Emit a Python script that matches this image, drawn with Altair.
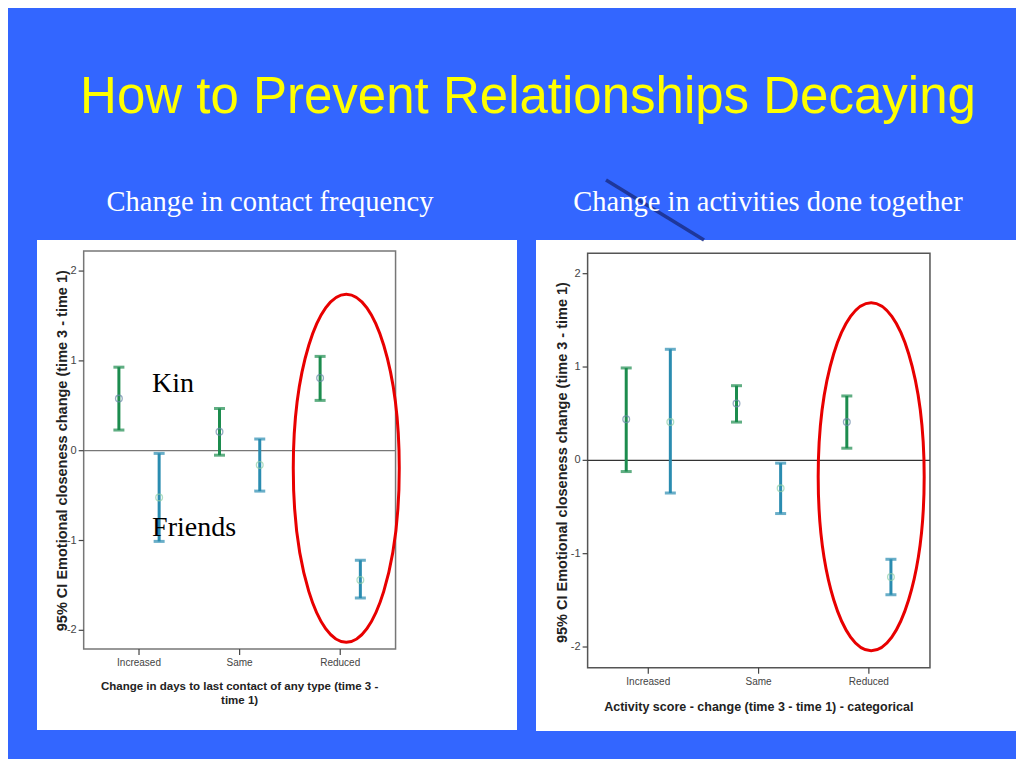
import altair as alt
import pandas as pd

# ---------------- data ----------------
CATEGORIES = ["Increased", "Same", "Reduced"]
GROUPS = ["Kin", "Friends"]
Y_TICKS = [-2, -1, 0, 1, 2]

# Left panel: change in contact frequency
L_KIN_MEAN = [0.58, 0.21, 0.81]
L_KIN_LO = [0.23, -0.05, 0.56]
L_KIN_HI = [0.93, 0.47, 1.05]
L_FR_MEAN = [-0.52, -0.16, -1.44]
L_FR_LO = [-1.01, -0.45, -1.64]
L_FR_HI = [-0.03, 0.13, -1.22]

# Right panel: change in activities done together
R_KIN_MEAN = [0.44, 0.61, 0.41]
R_KIN_LO = [-0.12, 0.41, 0.13]
R_KIN_HI = [0.99, 0.80, 0.69]
R_FR_MEAN = [0.41, -0.30, -1.25]
R_FR_LO = [-0.35, -0.57, -1.44]
R_FR_HI = [1.19, -0.03, -1.06]

TITLE = "How to Prevent Relationships Decaying"
L_SUBTITLE = "Change in contact frequency"
R_SUBTITLE = "Change in activities done together"
Y_TITLE = "95% CI Emotional closeness change (time 3 - time 1)"
L_XTITLE = ["Change in days to last contact of any type (time 3 -", "time 1)"]
R_XTITLE = ["Activity score - change (time 3 - time 1) - categorical"]
LABEL_TEXTS = ["Kin", "Friends"]

# ---------------- styling ----------------
BLUE = "#3366FF"
GREEN = "#1C8C4E"
TEAL = "#2A8CB0"
KIN_MARK = "#6A88A8"
FR_MARK = "#90D0A8"
AXIS_FONT = "Liberation Sans, Arial"
SERIF = "Liberation Serif, Times New Roman, serif"

# ellipse outline, semi-axes in pixels (53 x 174)
ELLIPSE_PATH = "M -53 0 A 53 174 0 1 0 53 0 A 53 174 0 1 0 -53 0 Z"

HIDDEN_AXIS = alt.Axis(labels=False, ticks=False, domain=False, grid=False,
                       title=None)


def make_df(kin_mean, kin_lo, kin_hi, fr_mean, fr_lo, fr_hi):
    rows = []
    for i, c in enumerate(CATEGORIES):
        rows.append(dict(cat=i + 1, category=c, group="Kin",
                         mean=kin_mean[i], lo=kin_lo[i], hi=kin_hi[i]))
        rows.append(dict(cat=i + 1, category=c, group="Friends",
                         mean=fr_mean[i], lo=fr_lo[i], hi=fr_hi[i]))
    return pd.DataFrame(rows)


def panel(df, subtitle, sub_px, xtitle, xtitle_dy, xtitle_size, xdom, ydom,
          frame_x, frame_y, w, h, ytitle_pos, frame_color, zero_color, ellipse,
          labels=None, main_title=None, swoosh=None):
    xs = alt.Scale(domain=xdom, nice=False, zero=False)
    ys = alt.Scale(domain=ydom, nice=False, zero=False)
    ux = (xdom[1] - xdom[0]) / w
    uy = (ydom[1] - ydom[0]) / h

    def px_x(p):  # pixel offset from left of panel -> data x
        return xdom[0] + p * ux

    def px_y(p):  # pixel offset from top of panel -> data y
        return ydom[1] - p * uy

    def X(f):
        return alt.X(f, scale=xs, axis=None)

    def Y(f):
        return alt.Y(f, scale=ys, axis=None)

    frame_df = pd.DataFrame([dict(x0=frame_x[0], x1=frame_x[1],
                                  y0=frame_y[0], y1=frame_y[1])])
    yt_df = pd.DataFrame(dict(v=Y_TICKS, lab=[str(v) for v in Y_TICKS]))
    yt_df["x0"] = frame_x[0]
    yt_df["x1"] = frame_x[0] - 5 * ux
    xt_df = pd.DataFrame(dict(v=[1, 2, 3], lab=CATEGORIES))
    xt_df["y0"] = frame_y[0]
    xt_df["y1"] = frame_y[0] - 6 * uy
    xtl_df = pd.DataFrame(dict(line=xtitle))
    xtl_df["yy"] = [frame_y[0] - i * 14 * uy for i in range(len(xtitle))]
    xtl_df["xc"] = (frame_x[0] + frame_x[1]) / 2

    frame = alt.Chart(frame_df).mark_rect(
        fillOpacity=0, stroke=frame_color, strokeWidth=1.5
    ).encode(
        x=alt.X("x0:Q", scale=xs, axis=HIDDEN_AXIS), x2="x1:Q",
        y=alt.Y("y0:Q", scale=ys, axis=HIDDEN_AXIS), y2="y1:Q",
    )

    zero = alt.Chart(frame_df).mark_rule(color=zero_color, strokeWidth=1.3).encode(
        x=X("x0:Q"), x2="x1:Q", y=alt.YDatum(0))

    yticks = alt.Chart(yt_df).mark_rule(strokeWidth=1.2, color="#444").encode(
        x=X("x1:Q"), x2="x0:Q", y=Y("v:Q"))
    ylabels = alt.Chart(yt_df).mark_text(
        align="right", baseline="middle", dx=-7, font=AXIS_FONT, fontSize=11,
        color="#444"
    ).encode(x=X("x0:Q"), y=Y("v:Q"), text="lab:N")

    xticks = alt.Chart(xt_df).mark_rule(strokeWidth=1.2, color="#444").encode(
        x=X("v:Q"), y=Y("y1:Q"), y2="y0:Q")
    xlabels = alt.Chart(xt_df).mark_text(
        align="center", baseline="top", dy=9, font=AXIS_FONT, fontSize=10,
        color="#444"
    ).encode(x=X("v:Q"), y=Y("y0:Q"), text="lab:N")

    xtitle_m = alt.Chart(xtl_df).mark_text(
        align="center", baseline="top", dy=xtitle_dy, font=AXIS_FONT,
        fontSize=xtitle_size, fontWeight="bold", color="#222"
    ).encode(x=X("xc:Q"), y=Y("yy:Q"), text="line:N")

    yt_pos = pd.DataFrame([dict(x=ytitle_pos[0], y=ytitle_pos[1], t=Y_TITLE)])
    ytitle_m = alt.Chart(yt_pos).mark_text(
        align="center", baseline="middle", angle=270, font=AXIS_FONT,
        fontSize=14.5, fontWeight="bold", color="#222"
    ).encode(x=X("x:Q"), y=Y("y:Q"), text="t:N")

    color = alt.Color("group:N", scale=alt.Scale(domain=GROUPS, range=[GREEN, TEAL]),
                      legend=None)
    mcolor = alt.Color("group:N", scale=alt.Scale(domain=GROUPS, range=[KIN_MARK, FR_MARK]),
                       legend=None)

    base = alt.Chart(df).transform_calculate(
        xpos="datum.cat + (datum.group == 'Kin' ? -0.2 : 0.2)"
    )
    bars = base.mark_rule(strokeWidth=3).encode(
        x=X("xpos:Q"), y=Y("lo:Q"), y2="hi:Q", color=color)
    caps = base.transform_fold(["lo", "hi"], as_=["end", "val"]).mark_tick(
        orient="horizontal", size=11, thickness=3
    ).encode(x=X("xpos:Q"), y=Y("val:Q"), color=color)
    means = base.mark_point(shape="circle", filled=False, size=45,
                            strokeWidth=1.3).encode(
        x=X("xpos:Q"), y=Y("mean:Q"), stroke=mcolor)

    ell_df = pd.DataFrame([dict(x=ellipse[0], y=ellipse[1])])
    ell = alt.Chart(ell_df).mark_point(
        shape=ELLIPSE_PATH, size=4, filled=False,
        stroke="#E80000", strokeWidth=3, opacity=1
    ).encode(x=X("x:Q"), y=Y("y:Q"))

    layers = [frame, zero, yticks, ylabels, xticks, xlabels, xtitle_m, ytitle_m,
              bars, caps, means, ell]

    if swoosh is not None:
        sw_df = pd.DataFrame([dict(x0=px_x(swoosh[0]), y0=px_y(swoosh[1]),
                                   x1=px_x(swoosh[2]), y1=px_y(swoosh[3]))])
        sw = alt.Chart(sw_df).mark_rule(color="#1B2F8A", strokeWidth=3.5,
                                        opacity=0.85).encode(
            x=X("x0:Q"), y=Y("y0:Q"), x2="x1:Q", y2="y1:Q")
        layers.append(sw)

    sub_df = pd.DataFrame([dict(t=subtitle, x=px_x(sub_px[0]), y=px_y(sub_px[1]))])
    sub = alt.Chart(sub_df).mark_text(
        font=SERIF, fontSize=28.5, color="white", align="center",
        baseline="alphabetic"
    ).encode(x=X("x:Q"), y=Y("y:Q"), text="t:N")
    layers.append(sub)

    if labels is not None:
        lab = alt.Chart(labels).mark_text(
            font=SERIF, fontSize=28, color="black", align="left",
            baseline="alphabetic"
        ).encode(x=X("x:Q"), y=Y("y:Q"), text="text:N")
        layers.append(lab)
    if main_title is not None:
        mt_df = pd.DataFrame([dict(t=main_title[0], x=px_x(main_title[1]),
                                   y=px_y(main_title[2]))])
        mt = alt.Chart(mt_df).mark_text(
            font="Liberation Sans, Arial", fontSize=51, color="#FFFF00",
            align="center", baseline="alphabetic"
        ).encode(x=X("x:Q"), y=Y("y:Q"), text="t:N")
        layers.append(mt)

    return alt.layer(*layers).properties(width=w, height=h)


left_df = make_df(L_KIN_MEAN, L_KIN_LO, L_KIN_HI, L_FR_MEAN, L_FR_LO, L_FR_HI)
right_df = make_df(R_KIN_MEAN, R_KIN_LO, R_KIN_HI, R_FR_MEAN, R_FR_LO, R_FR_HI)

kin_friends = pd.DataFrame([
    dict(text=LABEL_TEXTS[0], x=1.13, y=0.654),
    dict(text=LABEL_TEXTS[1], x=1.13, y=-0.95),
])

left = panel(left_df, L_SUBTITLE, (233, -29), L_XTITLE, 32, 11.5,
             xdom=[-0.014, 4.757], ydom=[-3.11, 2.346],
             frame_x=[0.45, 3.55], frame_y=[-2.208, 2.224],
             w=480, h=490, ytitle_pos=(0.245, 0.0),
             frame_color="#777", zero_color="#777",
             ellipse=(3.06, -0.196),
             labels=kin_friends, main_title=(TITLE, 491, -127))

right = panel(right_df, R_SUBTITLE, (232, -29), R_XTITLE, 33, 12.5,
              xdom=[-0.018, 4.334], ydom=[-2.90, 2.361],
              frame_x=[0.45, 3.554], frame_y=[-2.222, 2.218],
              w=480, h=491, ytitle_pos=(0.229, -0.024),
              frame_color="#555", zero_color="#333",
              ellipse=(3.021, -0.176), swoosh=(70, -60, 168, 0))

chart = alt.hconcat(left, right, spacing=19, bounds="flush").properties(
    padding={"left": 29, "top": 64, "right": 0, "bottom": 28},
    background=BLUE,
).configure_view(fill="white", stroke="white", strokeWidth=0)

chart.save("out.html", embed_options={"renderer": "svg", "actions": False})
